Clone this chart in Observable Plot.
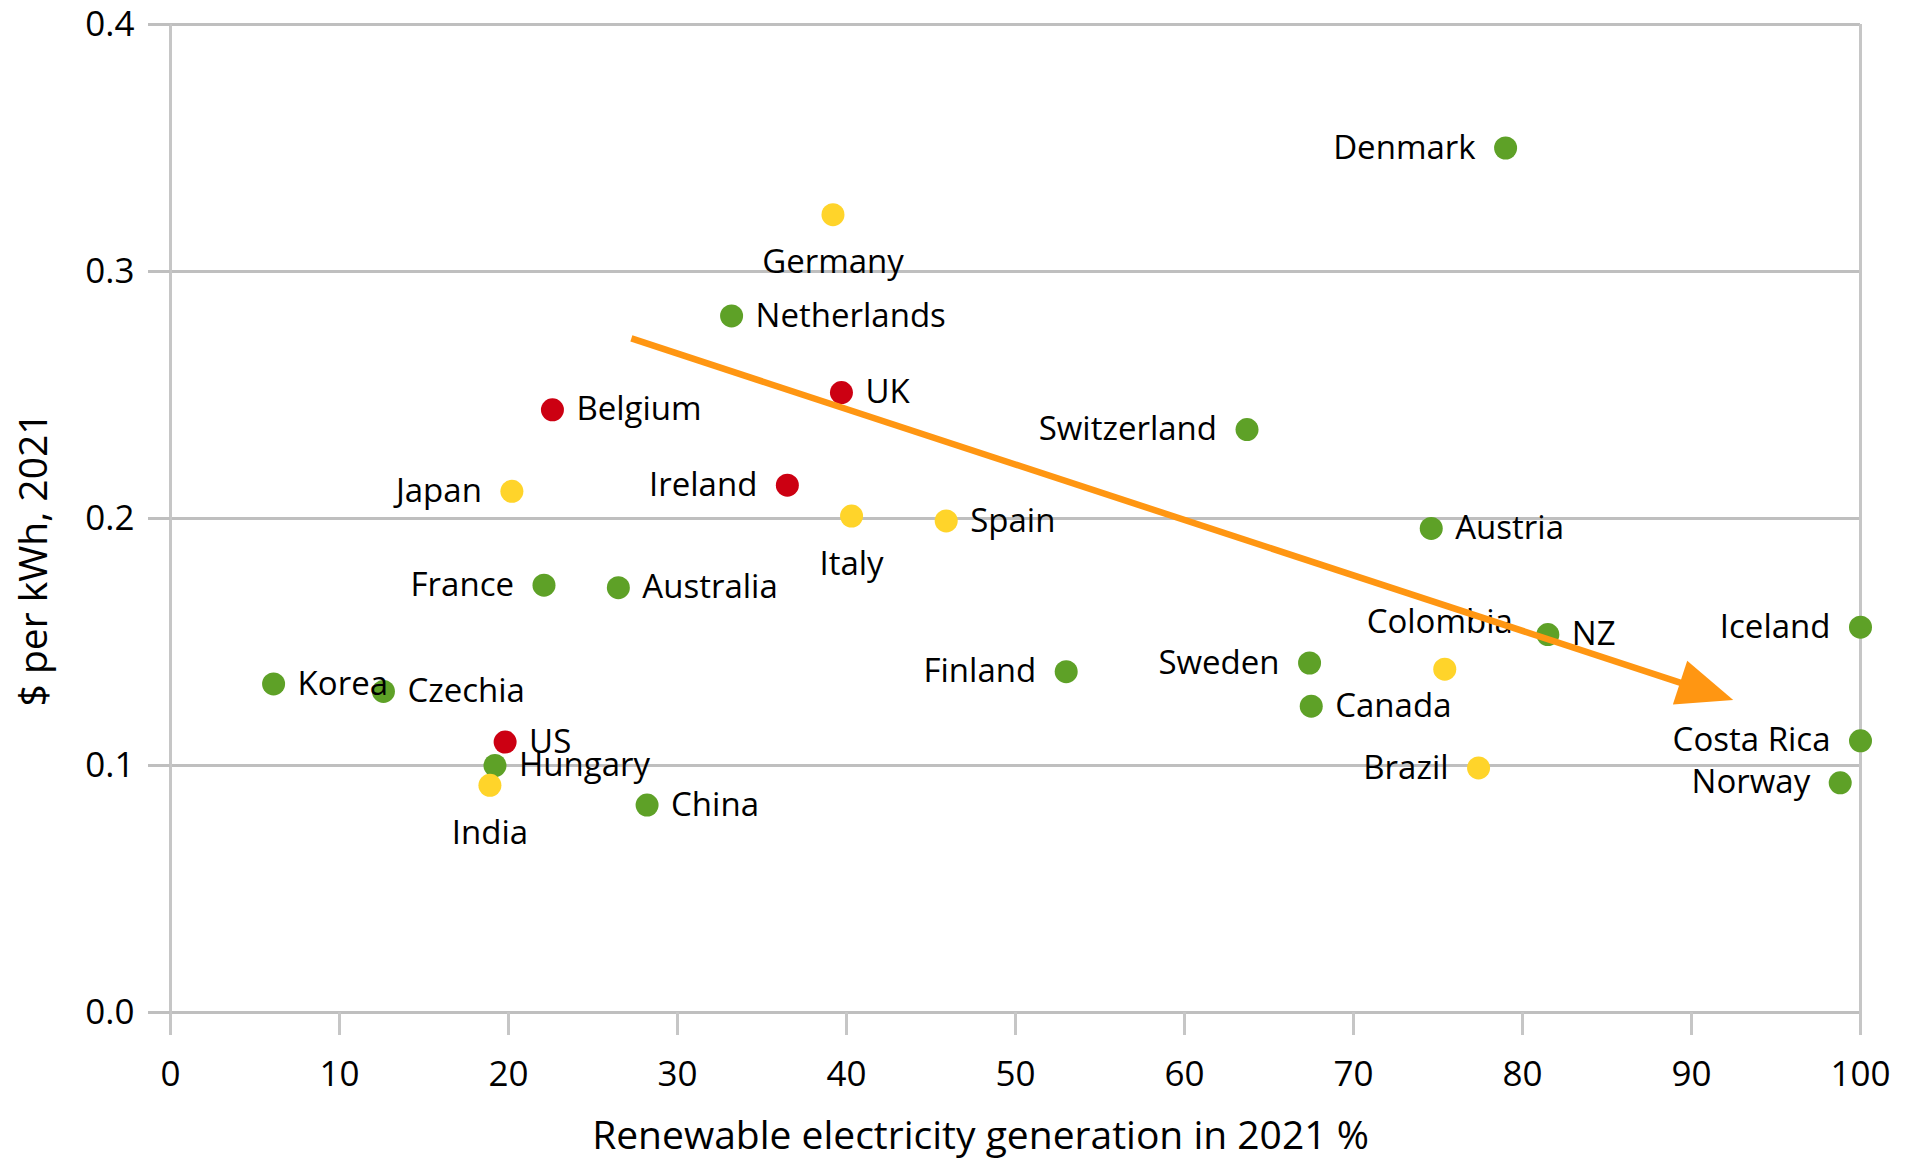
<!DOCTYPE html>
<html>
<head>
<meta charset="utf-8">
<script src="https://cdn.jsdelivr.net/npm/d3@7"></script>
<script src="https://cdn.jsdelivr.net/npm/@observablehq/plot@0.6"></script>
<style>
  html, body { margin: 0; padding: 0; background: #ffffff; }
  #chart svg { display: block; }
</style>
</head>
<body>
<div id="chart"></div>
<script>
// Electricity price vs. renewable share of generation, 2021
const countries = ["Denmark", "Germany", "Netherlands", "UK", "Belgium", "Switzerland", "Japan", "Ireland",
  "Italy", "Spain", "Austria", "France", "Australia", "Iceland", "NZ", "Colombia", "Finland", "Sweden",
  "Korea", "Czechia", "Canada", "US", "Costa Rica", "Hungary", "Brazil", "India", "Norway", "China"];
const renewableShare = [79.0, 39.2, 33.2, 39.7, 22.6, 63.7, 20.2, 36.5,
  40.3, 45.9, 74.6, 22.1, 26.5, 100, 81.5, 75.4, 53.0, 67.4,
  6.1, 12.6, 67.5, 19.8, 100, 19.2, 77.4, 18.9, 98.8, 28.2];
const pricePerKwh = [0.350, 0.323, 0.282, 0.251, 0.244, 0.236, 0.211, 0.2135,
  0.201, 0.199, 0.196, 0.173, 0.172, 0.156, 0.153, 0.139, 0.138, 0.1415,
  0.133, 0.130, 0.124, 0.1095, 0.110, 0.100, 0.099, 0.092, 0.093, 0.084];
// colour group of each country's dot: G = green, Y = yellow, R = red
const band = ["G", "Y", "G", "R", "R", "G", "Y", "R",
  "Y", "Y", "G", "G", "G", "G", "G", "Y", "G", "G",
  "G", "G", "G", "R", "G", "G", "Y", "Y", "G", "G"];

// trend arrow, start and end in data units
const trendShare = [27.3, 92.5];
const trendPrice = [0.2727, 0.1263];

const xTicks = [0, 10, 20, 30, 40, 50, 60, 70, 80, 90, 100];
const yTicks = [0, 0.1, 0.2, 0.3, 0.4];
const xTitle = "Renewable electricity generation in 2021 %";
const yTitle = "$ per kWh, 2021";

// where each country's name sits relative to its dot (default: right)
const labelPlacement = {
  Germany: "below", Italy: "below", India: "below", Colombia: "above",
  Denmark: "left", Switzerland: "left", Japan: "left", Ireland: "left", France: "left",
  Iceland: "left", Finland: "left", Sweden: "left", "Costa Rica": "left", Brazil: "left", Norway: "left"
};

const rows = countries.map((c, i) => ({
  country: c,
  share: renewableShare[i],
  price: pricePerKwh[i],
  band: band[i],
  place: labelPlacement[c] ?? "right"
}));

const gridColor = "#bfbfbf";
const arrowColor = "#ff9612";
const labelFont = 33;

function trendArrow(index, scales) {
  const x1 = scales.x(trendShare[0]), y1 = scales.y(trendPrice[0]);
  const x2 = scales.x(trendShare[1]), y2 = scales.y(trendPrice[1]);
  const a = Math.atan2(y2 - y1, x2 - x1);
  const ux = Math.cos(a), uy = Math.sin(a);
  const headLen = 56, headHalf = 23;
  const bx = x2 - headLen * ux, by = y2 - headLen * uy;
  const g = d3.create("svg:g");
  g.append("line")
    .attr("x1", x1).attr("y1", y1)
    .attr("x2", bx + 4 * ux).attr("y2", by + 4 * uy)
    .attr("stroke", arrowColor).attr("stroke-width", 6.5);
  g.append("path")
    .attr("d", `M${x2},${y2}L${bx - headHalf * uy},${by + headHalf * ux}L${bx + headHalf * uy},${by - headHalf * ux}Z`)
    .attr("fill", arrowColor);
  return g.node();
}

const chart = Plot.plot({
  width: 1910,
  height: 1162,
  marginLeft: 170,
  marginRight: 50,
  marginTop: 24,
  marginBottom: 150,
  style: { fontFamily: "'Open Sans', sans-serif", fontSize: "35px", color: "#000", background: "#ffffff" },
  x: { domain: [0, 100], label: null },
  y: { domain: [0, 0.4], label: null },
  color: { domain: ["G", "Y", "R"], range: ["#5ea127", "#ffd42a", "#cc0012"] },
  marks: [
    Plot.ruleY(yTicks, { stroke: gridColor, strokeWidth: 3 }),
    Plot.ruleX([0, 100], { stroke: "#c6c6c6", strokeWidth: 3 }),
    Plot.axisX({ ticks: xTicks, tickSize: 23, tickPadding: 26, stroke: "#c6c6c6", strokeWidth: 3,
      fill: "#000", fontSize: 35, label: null }),
    Plot.axisY({ ticks: yTicks, tickFormat: d3.format(".1f"), tickSize: 22, tickPadding: 14,
      stroke: gridColor, strokeWidth: 3, fill: "#000", fontSize: 35, label: null }),
    Plot.dot(rows, { x: "share", y: "price", r: 11.5, fill: "band" }),
    Plot.text(rows.filter(d => d.place === "right"), {
      x: "share", y: "price", text: "country", textAnchor: "start", dx: 24, fontSize: labelFont, fill: "#000"
    }),
    Plot.text(rows.filter(d => d.place === "left"), {
      x: "share", y: "price", text: "country", textAnchor: "end", dx: -30, fontSize: labelFont, fill: "#000"
    }),
    Plot.text(rows.filter(d => d.place === "below"), {
      x: "share", y: "price", text: "country", dy: 48, fontSize: labelFont, fill: "#000"
    }),
    Plot.text(rows.filter(d => d.place === "above"), {
      x: "share", y: "price", text: "country", dy: -47, dx: -5, fontSize: labelFont, fill: "#000"
    }),
    Plot.text([xTitle], { text: d => d, frameAnchor: "bottom", textAnchor: "middle", lineAnchor: "middle",
      dy: 124, dx: -35, fontSize: 39, fill: "#000" }),
    Plot.text([yTitle], { text: d => d, frameAnchor: "left", textAnchor: "middle", lineAnchor: "middle",
      rotate: -90, dx: -136, dy: 41, fontSize: 39, fill: "#000" }),
    trendArrow
  ]
});

document.getElementById("chart").append(chart);
</script>
</body>
</html>
